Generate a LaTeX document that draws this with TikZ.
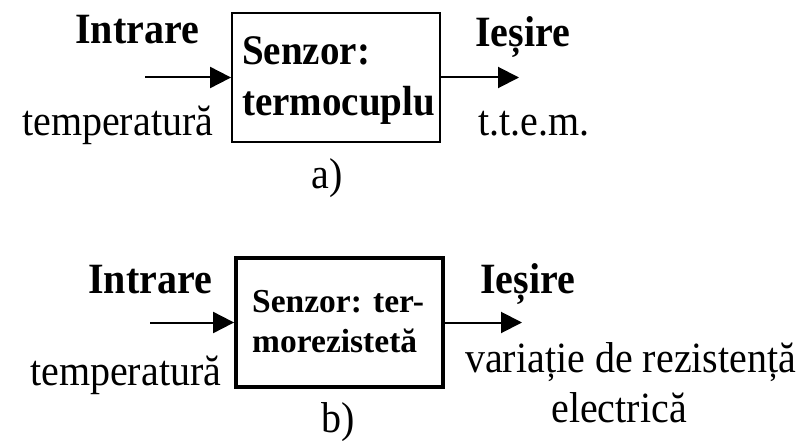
\documentclass[tikz,border=0pt]{standalone}
\usepackage{fontspec}
\setmainfont{Liberation Serif}
\usepackage{graphicx}
\usetikzlibrary{arrows.meta}
\newcommand{\vstr}[1]{\scalebox{1}[1.08]{#1}}
\tikzset{
  lbl/.style={inner sep=0pt, anchor=base west, font=\fontsize{40}{48}\selectfont},
  blbl/.style={inner sep=0pt, anchor=base west, font=\fontsize{40}{48}\selectfont\bfseries},
  atxt/.style={inner sep=0pt, anchor=base west, font=\fontsize{39}{47}\selectfont\bfseries},
  btxt/.style={inner sep=0pt, anchor=base west, font=\fontsize{33.5}{40}\selectfont\bfseries},
  boxa/.style={draw, line width=1.8pt, minimum width=208pt, minimum height=129pt, inner sep=0pt},
  boxb/.style={draw, line width=3.8pt, minimum width=207pt, minimum height=129pt, inner sep=0pt},
  arr/.style={line width=2pt, -{Triangle[length=21pt,width=21pt]}}
}
\begin{document}
\begin{tikzpicture}[x=1pt,y=-1pt]
\useasboundingbox (0,0) rectangle (810,441);
% ---------- a) ----------
\node[boxa] (sa) at (336,77.5) {};
\node[atxt] (sa1) at (242,65) {\vstr{Senzor:}};
\node[atxt] (sa2) at (242,115) {\vstr{termocuplu}};
\coordinate (ina) at (145,77.5);
\coordinate (outa) at (519,77.5);
\draw[arr] (ina) -- (sa.west);
\draw[arr] (sa.east) -- (outa);
\node[blbl] (intra) at (75,44) {\vstr{Intrare}};
\node[lbl] (tempa) at (22,135) {\vstr{temperatură}};
\node[blbl] (iesa) at (475,47) {\vstr{Ieșire}};
\node[lbl] (ttem) at (478,135) {\vstr{t.t.e.m.}};
\node[lbl, anchor=base] (la) at (327,188) {\vstr{a)}};
% ---------- b) ----------
\node[boxb] (sb) at (339.5,322.5) {};
\node[btxt] (sb1) at (252,312) {Senzor: ter-};
\node[btxt] (sb2) at (252,352) {morezistetă};
\coordinate (inb) at (150,322.5);
\coordinate (outb) at (522,322.5);
\draw[arr] (inb) -- (sb.west);
\draw[arr] (sb.east) -- (outb);
\node[blbl] (intrb) at (88,293) {\vstr{Intrare}};
\node[lbl] (tempb) at (30,385) {\vstr{temperatură}};
\node[blbl] (iesb) at (480,293) {\vstr{Ieșire}};
\node[lbl] (varb) at (465,372) {\vstr{variație de rezistență}};
\node[lbl, anchor=base] (elb) at (619,422) {\vstr{electrică}};
\node[lbl, anchor=base] (lb) at (338,432) {\vstr{b)}};
\end{tikzpicture}
\end{document}
